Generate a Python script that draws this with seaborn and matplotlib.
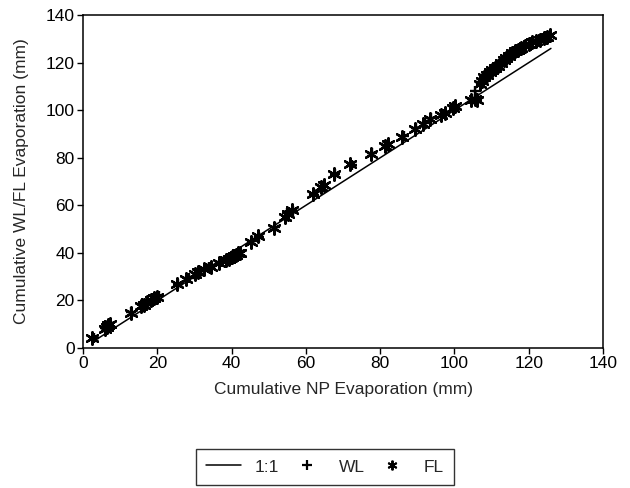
import matplotlib
matplotlib.use("Agg")
import matplotlib.pyplot as plt
import seaborn as sns
import pandas as pd
from matplotlib.lines import Line2D

# 1:1 line end points (NP evaporation, mm)
one_to_one = [3, 126]

# FL lysimeter: cumulative NP evaporation (x) vs FL evaporation (y)
fl_np = [2.5, 5.8, 6.3, 6.8, 7.3, 12.8, 15.5, 16.3, 17.2, 18.2, 19.2, 20.0, 25.3, 27.8,
         30.2, 31.0, 32.5, 34.5, 36.5, 38.5, 39.3, 40.0, 40.6, 41.2, 41.8, 42.2, 45.2,
         47.0, 51.5, 54.5, 55.3, 56.2, 62.0, 64.0, 64.8, 67.5, 72.0, 77.6, 81.2, 82.0,
         86.0, 89.3, 91.5, 93.3, 96.5, 97.5, 99.5, 100.2, 104.5, 105.5, 106.2, 106.8,
         107.3, 108.0, 108.8, 109.5, 110.2, 111.0, 111.8, 112.5, 113.3, 114.0, 114.8,
         115.5, 116.3, 117.0, 118.0, 119.0, 120.0, 121.0, 122.0, 123.0, 124.0, 125.0, 125.7]
fl_ev = [4.3, 7.8, 8.8, 9.5, 10.0, 14.8, 17.5, 18.2, 19.2, 20.0, 20.8, 21.5, 27.0, 28.8,
         31.3, 31.8, 33.0, 34.2, 35.8, 37.0, 37.6, 38.2, 38.8, 39.3, 39.8, 40.0, 44.6,
         47.0, 50.5, 55.0, 56.5, 58.0, 64.7, 67.5, 68.5, 73.3, 77.3, 81.7, 85.0, 85.8,
         88.7, 92.2, 94.0, 96.5, 98.0, 99.0, 101.0, 101.8, 104.2, 104.8, 104.5, 111.0,
         112.5, 113.8, 115.0, 116.0, 116.8, 117.8, 118.7, 119.8, 121.0, 122.0, 123.0,
         124.0, 124.8, 125.5, 126.2, 127.0, 127.8, 128.5, 129.0, 129.5, 130.2, 131.0, 131.5]

# WL lysimeter
wl_np = [2.8, 6.0, 7.0, 13.0, 16.0, 18.5, 20.3, 25.5, 28.5, 31.5, 34.0, 37.0, 39.5, 40.8,
         41.5, 45.5, 47.3, 51.8, 55.0, 56.5, 62.3, 64.5, 67.8, 72.3, 77.8, 81.5, 86.3,
         89.7, 92.0, 93.8, 97.0, 99.8, 104.8, 105.5, 106.0, 107.0, 108.0, 109.0, 110.0,
         111.2, 112.2, 113.5, 114.5, 115.8, 117.2, 118.5, 120.5, 122.5, 124.5, 125.5]
wl_ev = [4.0, 8.3, 9.8, 15.2, 18.0, 20.3, 21.8, 26.8, 29.3, 32.2, 34.0, 36.2, 37.9, 38.5,
         39.6, 44.8, 46.6, 50.8, 56.8, 57.8, 64.3, 68.0, 73.0, 77.0, 82.0, 85.4, 89.0,
         92.5, 94.5, 96.8, 98.6, 100.8, 104.6, 108.1, 104.0, 111.8, 114.2, 115.6, 116.6,
         118.2, 119.5, 121.4, 122.6, 124.3, 125.8, 126.6, 128.1, 129.2, 130.6, 131.2]

x_ticks = [0, 20, 40, 60, 80, 100, 120, 140]
y_ticks = [0, 20, 40, 60, 80, 100, 120, 140]

sns.set_style("ticks")
plt.rcParams['font.family'] = ['Liberation Sans', 'DejaVu Sans']

fig = plt.figure(figsize=(6.3, 4.88), dpi=100)
ax = fig.add_axes([0.132, 0.287, 0.825, 0.682])

line_df = pd.DataFrame({"x": one_to_one, "y": one_to_one})
sns.lineplot(data=line_df, x="x", y="y", ax=ax, color="black", linewidth=1.1)

wl_df = pd.DataFrame({"x": wl_np, "y": wl_ev})
fl_df = pd.DataFrame({"x": fl_np, "y": fl_ev})
sns.scatterplot(data=wl_df, x="x", y="y", ax=ax, marker="+", s=60,
                color="black", linewidth=1.7)
sns.scatterplot(data=fl_df, x="x", y="y", ax=ax, marker=(6, 2, 0), s=80,
                color="black", linewidth=1.7)

ax.set_xlim(0, 140)
ax.set_ylim(0, 140)
ax.set_xticks(x_ticks)
ax.set_yticks(y_ticks)
ax.tick_params(axis="both", direction="out", length=4, width=1, labelsize=12.5,
               colors="black", pad=2)
for sp in ax.spines.values():
    sp.set_visible(True)
    sp.set_color("black")
    sp.set_linewidth(1.1)

ax.set_xlabel("Cumulative NP Evaporation (mm)", fontsize=12.5, labelpad=8)
ax.set_ylabel("Cumulative WL/FL Evaporation (mm)", fontsize=12.5, labelpad=12)

handles = [
    Line2D([], [], color="black", linewidth=1.1),
    Line2D([], [], color="black", marker="+", linestyle="none", markersize=7, markeredgewidth=1.6),
    Line2D([], [], color="black", marker=(6, 2, 0), linestyle="none", markersize=7, markeredgewidth=1.4),
]
leg = fig.legend(handles, ["1:1", "WL", "FL"], ncol=3, loc="center",
                 bbox_to_anchor=(325 / 630, 1 - 467 / 488), frameon=True,
                 fancybox=False, edgecolor="black", fontsize=12.5,
                 handlelength=2.0, columnspacing=0.6, handletextpad=0.8,
                 borderpad=0.6)
leg.get_frame().set_linewidth(1.0)

fig.savefig("out.png", dpi=100)
